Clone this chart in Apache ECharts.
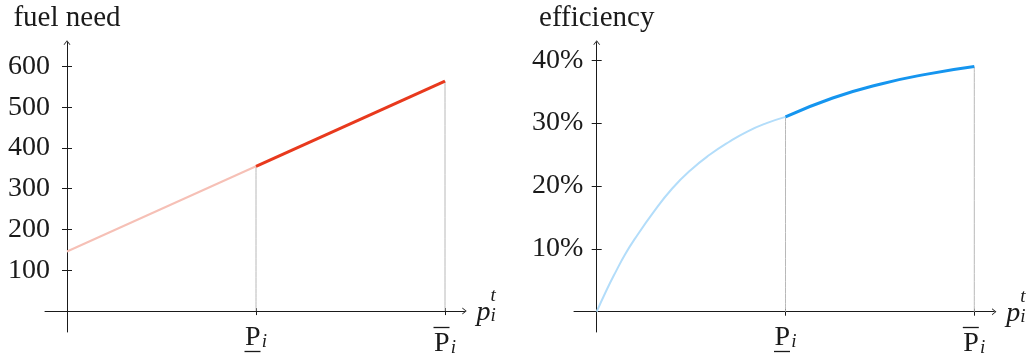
<!DOCTYPE html>
<html>
<head>
<meta charset="utf-8">
<script src="https://cdn.jsdelivr.net/npm/echarts@6/dist/echarts.min.js"></script>
<style>
  html, body { margin: 0; padding: 0; background: #ffffff; }
  #main { width: 1030px; height: 363px; }
</style>
</head>
<body>
<div id="main"></div>
<script>
// Operating range of unit i: output p between P_min (1) and P_max (2)
const pTicks = [1, 2];

// Fuel need (left panel)
const fuelTicks = [100, 200, 300, 400, 500, 600];
const fuelPBelow = [0, 1];
const fuelBelow = [146, 355];
const fuelPRange = [1, 2];
const fuelRange = [355, 564];

// Efficiency in percent (right panel)
const effTicks = [10, 20, 30, 40];
const effPBelow = [0, 0.05, 0.1, 0.15, 0.2, 0.3, 0.4, 0.5, 0.6, 0.7, 0.8, 0.9, 1];
const effBelow = [0, 3.3, 6.3, 9.1, 11.5, 15.8, 19.6, 22.6, 25.0, 27.0, 28.7, 30.0, 31.0];
const effPRange = [1, 1.25, 1.5, 1.75, 2];
const effRange = [31.0, 34.0, 36.2, 37.8, 39.0];

const FONT = 'Liberation Serif';
const INK = '#1a1a1a';
const ARROW = 'path://M0,5 L4,0 L8,5 L6.9,5 L4,1.4 L1.1,5 Z';

const zip = (xs, ys) => xs.map((x, k) => [x, ys[k]]);

const labelRich = {
  P: { fontFamily: FONT, fontSize: 28, color: INK, lineHeight: 26 },
  s: { fontFamily: FONT, fontSize: 19, fontStyle: 'italic', color: INK, lineHeight: 26, padding: [9, 0, 0, 1] },
  ul: { fontSize: 2, width: 16, height: 1.3, lineHeight: 2, backgroundColor: INK },
  ol: { fontSize: 2, width: 16, height: 1.3, lineHeight: 6, backgroundColor: INK },
  gap: { fontSize: 2, width: 7, lineHeight: 2 }
};

function boundLabel(v) {
  if (v === pTicks[0]) return '{P|P}{s|i}\n{ul| }{gap| }';
  return '{ol| }{gap| }\n{P|P}{s|i}';
}

const nameRich = {
  sp: { fontSize: 2, width: 14, lineHeight: 12 },
  t: { fontFamily: FONT, fontSize: 19, fontStyle: 'italic', color: INK, lineHeight: 12 },
  p: { fontFamily: FONT, fontSize: 28, fontStyle: 'italic', color: INK, lineHeight: 22 },
  i: { fontFamily: FONT, fontSize: 19, fontStyle: 'italic', color: INK, lineHeight: 22, padding: [6, 0, 0, 0] }
};

function xAxes(grid, min, max) {
  return [
    {
      type: 'value', gridIndex: grid, position: 'bottom', min: min, max: max,
      axisLine: { show: true, onZero: true, onZeroAxisIndex: grid * 2,
        symbol: ['none', ARROW], symbolSize: [7, 5],
        lineStyle: { color: INK, width: 1 } },
      axisTick: { show: true, customValues: pTicks, length: 4, lineStyle: { color: INK, width: 1 } },
      axisLabel: { show: true, customValues: pTicks, margin: -7.5, formatter: boundLabel, rich: labelRich },
      splitLine: { show: false },
      name: '{sp| }{t|t}\n{p|p}{i|i}',
      nameLocation: 'end', nameGap: 12,
      nameTextStyle: { align: 'left', verticalAlign: 'middle', rich: nameRich, padding: [0, 0, 8, 0] }
    },
    {
      type: 'value', gridIndex: grid, position: 'top', min: min, max: max,
      axisLine: { show: true, onZero: true, onZeroAxisIndex: grid * 2,
        lineStyle: { color: 'rgba(0,0,0,0)', width: 1 } },
      axisTick: { show: true, customValues: pTicks, length: 3, lineStyle: { color: INK, width: 1 } },
      axisLabel: { show: false },
      splitLine: { show: false }
    }
  ];
}

function yAxes(grid, min, max, ticks, fmt, margin, title) {
  return [
    {
      type: 'value', gridIndex: grid, position: 'left', min: min, max: max,
      axisLine: { show: true, onZero: true, onZeroAxisIndex: grid * 2,
        symbol: ['none', ARROW], symbolSize: [7, 5],
        lineStyle: { color: INK, width: 1 } },
      axisTick: { show: true, customValues: ticks, length: 5, lineStyle: { color: INK, width: 1 } },
      axisLabel: { show: true, customValues: ticks, margin: margin, formatter: fmt,
        fontFamily: FONT, fontSize: 28, color: INK },
      splitLine: { show: false },
      name: title, nameLocation: 'end', nameGap: 10,
      nameTextStyle: { fontFamily: FONT, fontSize: 29, color: INK }
    },
    {
      type: 'value', gridIndex: grid, position: 'right', min: min, max: max,
      axisLine: { show: true, onZero: true, onZeroAxisIndex: grid * 2,
        lineStyle: { color: 'rgba(0,0,0,0)', width: 1 } },
      axisTick: { show: true, customValues: ticks, length: 5, lineStyle: { color: INK, width: 1 } },
      axisLabel: { show: false },
      splitLine: { show: false }
    }
  ];
}

function lineSeries(grid, data, color, width, z) {
  return {
    type: 'line', xAxisIndex: grid * 2, yAxisIndex: grid * 2, data: data,
    smooth: 0.5, symbol: 'none', silent: true, z: z,
    lineStyle: { color: color, width: width, cap: 'butt' }
  };
}

const GUIDE = '#b8b8b8';

const option = {
  animation: false,
  backgroundColor: '#ffffff',
  grid: [
    { left: 45, top: 42.5, width: 419.5, height: 289.5, outerBoundsMode: 'none', containLabel: false },
    { left: 574, top: 42.5, width: 420.2, height: 289.5, outerBoundsMode: 'none', containLabel: false }
  ],
  xAxis: [].concat(
    xAxes(0, -22 / 189, 397.5 / 189),
    xAxes(1, -22.7 / 188.8, 397.5 / 188.8)
  ),
  yAxis: [].concat(
    yAxes(0, -51.3, 658.5, fuelTicks, v => String(v), -5, 'fuel need'),
    yAxes(1, -3.23, 42.83, effTicks, v => v + '%', -9.3, 'efficiency')
  ),
  series: [
    // fuel need: guides at both bounds, then the curve
    lineSeries(0, [[pTicks[0], 0], [pTicks[0], fuelRange[0]]], GUIDE, 1, 1),
    lineSeries(0, [[pTicks[1], 0], [pTicks[1], fuelRange[fuelRange.length - 1]]], GUIDE, 1, 1),
    lineSeries(0, zip(fuelPBelow, fuelBelow), '#f6c0b6', 2, 2),
    lineSeries(0, zip(fuelPRange, fuelRange), '#e8391d', 3, 3),
    // efficiency
    lineSeries(1, [[pTicks[0], 0], [pTicks[0], effRange[0]]], GUIDE, 1, 1),
    lineSeries(1, [[pTicks[1], 0], [pTicks[1], effRange[effRange.length - 1]]], GUIDE, 1, 1),
    lineSeries(1, zip(effPBelow, effBelow), '#b3ddfa', 2, 2),
    lineSeries(1, zip(effPRange, effRange), '#1595ef', 3, 3)
  ]
};

const chart = echarts.init(document.getElementById('main'), null, { renderer: 'canvas' });
chart.setOption(option);
</script>
</body>
</html>
